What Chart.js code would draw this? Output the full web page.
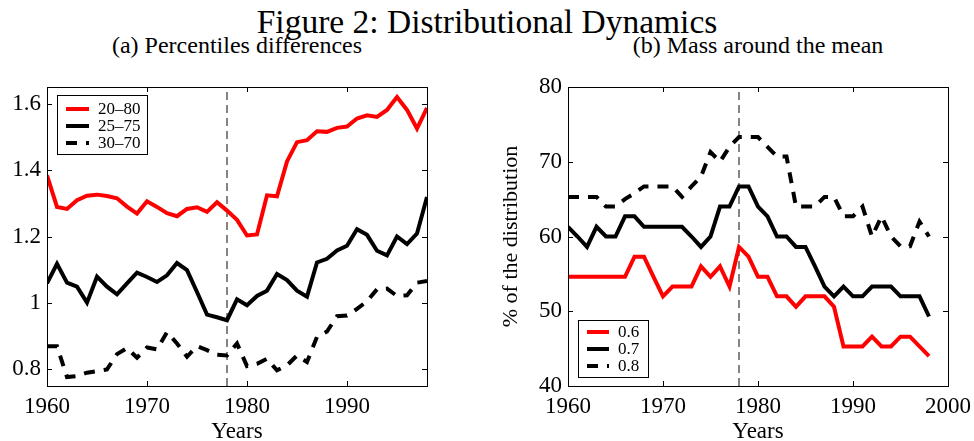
<!DOCTYPE html>
<html>
<head>
<meta charset="utf-8">
<script src="https://cdn.jsdelivr.net/npm/chart.js@4.4.0/dist/chart.umd.min.js"></script>
<style>
    html, body { margin: 0; padding: 0; background: #fff; overflow: hidden; }
    #wrap { position: relative; width: 974px; height: 441px; font-family: "Liberation Serif", serif; color: #000; }
    .txt { position: absolute; white-space: nowrap; line-height: 1; transform: translateX(-50%); }
    #fig-title { left: 487px; top: 5px; font-size: 33.5px; }
    #sub-a { left: 237px; top: 33px; font-size: 24px; }
    #sub-b { left: 758px; top: 33px; font-size: 24px; }
    #left-box { position: absolute; left: 0; top: 0; }
    #right-box { position: absolute; left: 470px; top: 0; }
</style>
</head>
<body>
<div id="wrap">
    <div id="fig-title" class="txt">Figure 2: Distributional Dynamics</div>
    <div id="sub-a" class="txt">(a) Percentiles differences</div>
    <div id="sub-b" class="txt">(b) Mass around the mean</div>
    <canvas id="left-box" width="470" height="441"></canvas>
    <canvas id="right-box" width="504" height="441"></canvas>
</div>
<script>
// anos (os dois painéis usam a mesma série anual)
const years = [1960, 1961, 1962, 1963, 1964, 1965, 1966, 1967, 1968, 1969,
    1970, 1971, 1972, 1973, 1974, 1975, 1976, 1977, 1978, 1979,
    1980, 1981, 1982, 1983, 1984, 1985, 1986, 1987, 1988, 1989,
    1990, 1991, 1992, 1993, 1994, 1995, 1996, 1997, 1998];

// (a) diferenças de percentis
const pct2080 = [1.384, 1.289, 1.283, 1.309, 1.323, 1.326, 1.322, 1.315, 1.290, 1.269,
    1.306, 1.289, 1.270, 1.261, 1.283, 1.288, 1.274, 1.303, 1.278, 1.250,
    1.203, 1.206, 1.324, 1.321, 1.426, 1.484, 1.490, 1.517, 1.515, 1.527,
    1.531, 1.555, 1.565, 1.560, 1.581, 1.620, 1.581, 1.525, 1.587];
const pct2575 = [1.059, 1.118, 1.061, 1.049, 1.001, 1.079, 1.049, 1.026, 1.059, 1.091,
    1.078, 1.063, 1.083, 1.120, 1.099, 1.033, 0.965, 0.957, 0.948, 1.011,
    0.993, 1.021, 1.037, 1.087, 1.069, 1.037, 1.019, 1.122, 1.133, 1.158,
    1.172, 1.222, 1.205, 1.157, 1.143, 1.200, 1.177, 1.209, 1.319];
const pct3070 = [0.870, 0.870, 0.777, 0.780, 0.790, 0.795, 0.800, 0.846, 0.864, 0.835,
    0.866, 0.860, 0.912, 0.878, 0.838, 0.870, 0.858, 0.844, 0.842, 0.878,
    0.810, 0.817, 0.832, 0.797, 0.812, 0.842, 0.822, 0.898, 0.914, 0.960,
    0.962, 0.982, 1.005, 1.041, 1.043, 1.021, 1.023, 1.061, 1.066];

// (b) massa em torno da média (%)
const mass06 = [54.6, 54.6, 54.6, 54.6, 54.6, 54.6, 54.6, 57.3, 57.3, 54.6,
    52.0, 53.3, 53.3, 53.3, 56.0, 54.6, 56.0, 53.3, 58.6, 57.3,
    54.6, 54.6, 52.0, 52.0, 50.6, 52.0, 52.0, 52.0, 50.6, 45.3,
    45.3, 45.3, 46.6, 45.3, 45.3, 46.6, 46.6, 45.3, 44.0];
const mass07 = [61.3, 60.0, 58.6, 61.3, 60.0, 60.0, 62.7, 62.7, 61.3, 61.3,
    61.3, 61.3, 61.3, 60.0, 58.6, 60.0, 64.0, 64.0, 66.7, 66.7,
    64.0, 62.7, 60.0, 60.0, 58.6, 58.6, 56.0, 53.3, 52.0, 53.3,
    52.0, 52.0, 53.3, 53.3, 53.3, 52.0, 52.0, 52.0, 49.3];
const mass08 = [65.3, 65.3, 65.3, 65.3, 64.0, 64.0, 65.0, 65.8, 66.7, 66.7,
    66.7, 66.7, 65.3, 66.7, 68.0, 71.3, 70.0, 72.0, 73.3, 73.3,
    73.3, 72.0, 70.7, 70.7, 64.0, 64.0, 64.0, 65.3, 65.3, 62.7,
    62.7, 64.0, 60.0, 62.7, 60.0, 58.7, 58.7, 62.0, 60.0];

// eixos
const leftXTicks = [1960, 1970, 1980, 1990];
const leftYTicks = [0.8, 1, 1.2, 1.4, 1.6];
const rightXTicks = [1960, 1970, 1980, 1990, 2000];
const rightYTicks = [40, 50, 60, 70, 80];
const breakYear = 1978;

const SERIF = '"Liberation Serif", "Times New Roman", serif';

function toPoints(values) {
    return years.map((yr, i) => ({ x: yr, y: values[i] }));
}

// caixa estilo MATLAB com marcas de escala para dentro
const boxPlugin = {
    id: 'matlabBox',
    afterDraw(chart) {
        const { ctx, chartArea: a } = chart;
        const xs = chart.scales.x, ys = chart.scales.y;
        const len = 5;
        ctx.save();
        ctx.strokeStyle = '#000';
        ctx.lineWidth = 1;
        ctx.beginPath();
        xs.ticks.forEach(t => {
            const px = Math.round(xs.getPixelForValue(t.value)) + 0.5;
            ctx.moveTo(px, a.bottom); ctx.lineTo(px, a.bottom - len);
            ctx.moveTo(px, a.top); ctx.lineTo(px, a.top + len);
        });
        ys.ticks.forEach(t => {
            const py = Math.round(ys.getPixelForValue(t.value)) + 0.5;
            ctx.moveTo(a.left, py); ctx.lineTo(a.left + len, py);
            ctx.moveTo(a.right, py); ctx.lineTo(a.right - len, py);
        });
        ctx.stroke();
        ctx.strokeRect(a.left + 0.5, a.top + 0.5, a.right - a.left, a.bottom - a.top);
        ctx.restore();
    }
};

// legenda desenhada dentro da área do gráfico
const boxLegendPlugin = {
    id: 'boxLegend',
    afterDraw(chart, args, opts) {
        const { ctx, chartArea: a } = chart;
        const x0 = a.left + opts.dx;
        const y0 = opts.fromBottom ? a.bottom - opts.dy - opts.h : a.top + opts.dy;
        ctx.save();
        ctx.fillStyle = '#fff';
        ctx.fillRect(x0, y0, opts.w, opts.h);
        ctx.strokeStyle = '#000';
        ctx.lineWidth = 1;
        ctx.setLineDash([]);
        ctx.strokeRect(x0 + 0.5, y0 + 0.5, opts.w, opts.h);
        let row = 0;
        chart.data.datasets.forEach(ds => {
            if (ds.noLegend) return;
            const cy = y0 + opts.firstRow + row * opts.rowH;
            ctx.beginPath();
            ctx.strokeStyle = ds.borderColor;
            ctx.lineWidth = ds.borderWidth;
            ctx.setLineDash(ds.borderDash || []);
            ctx.moveTo(x0 + 9, cy);
            ctx.lineTo(x0 + opts.lineEnd, cy);
            ctx.stroke();
            ctx.setLineDash([]);
            ctx.fillStyle = '#000';
            ctx.font = '17px ' + SERIF;
            ctx.textBaseline = 'middle';
            ctx.fillText(ds.label, x0 + opts.textX, cy + 1);
            row++;
        });
        ctx.restore();
    }
};

function lineSet(label, values, color, dash) {
    return {
        label: label,
        data: toPoints(values),
        borderColor: color,
        borderWidth: 4,
        borderDash: dash || [],
        pointRadius: 0,
        tension: 0,
        fill: false
    };
}

function vline(yMin, yMax) {
    return {
        label: '',
        noLegend: true,
        data: [{ x: breakYear, y: yMin }, { x: breakYear, y: yMax }],
        borderColor: '#444',
        borderWidth: 1.3,
        borderDash: [8, 5],
        pointRadius: 0,
        fill: false
    };
}

function makeChart(canvas, cfg) {
    const tickFont = { family: SERIF, size: 23 };
    return new Chart(canvas, {
        type: 'line',
        data: { datasets: cfg.datasets },
        options: {
            responsive: false,
            animation: false,
            events: [],
            layout: { padding: { left: 0, top: 87, right: cfg.padRight, bottom: 0 } },
            scales: {
                x: {
                    type: 'linear',
                    min: cfg.xMin,
                    max: cfg.xMax,
                    afterBuildTicks: s => { s.ticks = cfg.xTicks.map(v => ({ value: v })); },
                    afterFit: s => { s.height = 55; s.paddingLeft = 0; s.paddingRight = 0; },
                    grid: { display: false, drawTicks: false },
                    border: { display: false },
                    ticks: {
                        autoSkip: false, maxRotation: 0, padding: 7, color: '#000',
                        font: tickFont, callback: v => String(v)
                    },
                    title: {
                        display: true, text: 'Years', color: '#000', padding: 0,
                        font: { family: SERIF, size: 23, lineHeight: 0.8 }
                    }
                },
                y: {
                    min: cfg.yMin,
                    max: cfg.yMax,
                    afterBuildTicks: s => { s.ticks = cfg.yTicks.map(v => ({ value: v })); },
                    afterFit: s => { s.width = cfg.yWidth; s.paddingTop = 0; s.paddingBottom = 0; },
                    grid: { display: false, drawTicks: false },
                    border: { display: false },
                    ticks: {
                        autoSkip: false, padding: 6, color: '#000',
                        font: tickFont, callback: v => String(v)
                    },
                    title: cfg.yTitle ? {
                        display: true, text: cfg.yTitle, color: '#000',
                        padding: { top: 30, bottom: 0 },
                        font: { family: SERIF, size: 22, lineHeight: 1 }
                    } : { display: false }
                }
            },
            plugins: {
                legend: { display: false },
                tooltip: { enabled: false },
                boxLegend: cfg.legend
            }
        },
        plugins: [boxPlugin, boxLegendPlugin]
    });
}

makeChart(document.getElementById('left-box'), {
    xMin: 1960, xMax: 1998, yMin: 0.75, yMax: 1.65,
    xTicks: leftXTicks, yTicks: leftYTicks,
    yWidth: 47, padRight: 43,
    datasets: [
        lineSet('20\u201380', pct2080, '#ff0000'),
        lineSet('25\u201375', pct2575, '#000000'),
        lineSet('30\u201370', pct3070, '#000000', [11, 9]),
        vline(0.75, 1.65)
    ],
    legend: { dx: 10, dy: 8, fromBottom: false, w: 90, h: 59, firstRow: 14, rowH: 17, lineEnd: 32, textX: 41 }
});

makeChart(document.getElementById('right-box'), {
    xMin: 1960, xMax: 2000, yMin: 40, yMax: 80,
    xTicks: rightXTicks, yTicks: rightYTicks,
    yWidth: 98, padRight: 26,
    yTitle: '% of the distribution',
    datasets: [
        lineSet('0.6', mass06, '#ff0000'),
        lineSet('0.7', mass07, '#000000'),
        lineSet('0.8', mass08, '#000000', [11, 9]),
        vline(40, 80)
    ],
    legend: { dx: 10, dy: 9, fromBottom: true, w: 70, h: 57, firstRow: 12, rowH: 17, lineEnd: 31, textX: 40 }
});
</script>
</body>
</html>
